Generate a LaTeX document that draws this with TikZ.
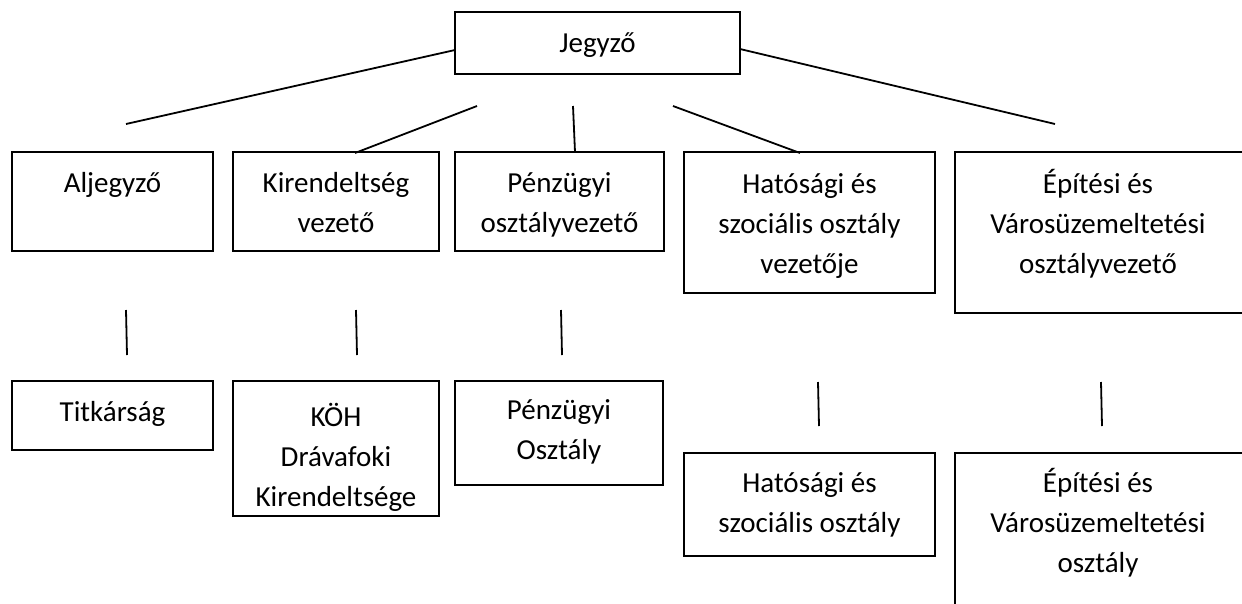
\documentclass[tikz,border=0pt]{standalone}
\usepackage{fontspec}
\setmainfont{Carlito}
\begin{document}
\begin{tikzpicture}[x=1pt,y=-1pt,
  box/.style={draw=black, line width=1.4pt, inner sep=0pt, outer sep=0pt},
  lbl/.style={anchor=north, align=center, inner sep=0pt, font=\fontsize{29}{40}\selectfont},
  link/.style={draw=black, line width=1.8pt}]
\useasboundingbox (0,0) rectangle (1242,603);
\fill[white] (0,0) rectangle (1242,603);

% boxes
\node[box, minimum width=285pt, minimum height=62pt] (jegyzo) at (597.5,43) {};
\node[box, minimum width=201pt, minimum height=99pt] (aljegyzo) at (112.5,201.5) {};
\node[box, minimum width=206pt, minimum height=99pt] (kirend) at (336,201.5) {};
\node[box, minimum width=209pt, minimum height=99pt] (penzv) at (559.5,201.5) {};
\node[box, minimum width=251pt, minimum height=141pt] (hatv) at (809.5,222.5) {};
\node[box, minimum width=305pt, minimum height=161pt] (epitv) at (1107.5,232.5) {};
\node[box, minimum width=201pt, minimum height=69pt] (titk) at (112.5,415.5) {};
\node[box, minimum width=206pt, minimum height=135pt] (koh) at (336,448.5) {};
\node[box, minimum width=208pt, minimum height=104pt] (penzo) at (559,433) {};
\node[box, minimum width=251pt, minimum height=103pt] (hato) at (809.5,504.5) {};
\node[box, minimum width=305pt, minimum height=167pt] (epito) at (1107.5,536.5) {};

% texts (north = first baseline - 28)
\node[lbl] (tjegyzo) at (597.5,24) {\strut Jegyző};
\node[lbl] (taljegyzo) at (112.5,164) {\strut Aljegyző};
\node[lbl] (tkirend) at (336,164) {\strut Kirendeltség\\\strut vezető};
\node[lbl] (tpenzv) at (559.5,164) {\strut Pénzügyi\\\strut osztályvezető};
\node[lbl] (thatv) at (809.5,165) {\strut Hatósági és\\\strut szociális osztály\\\strut vezetője};
\node[lbl] (tepitv) at (1098,165) {\strut Építési és\\\strut Városüzemeltetési\\\strut osztályvezető};
\node[lbl] (ttitk) at (112.5,393) {\strut Titkárság};
\begin{scope}
\clip (233,381) rectangle (439,516);
\node[lbl] (tkoh) at (336,398) {\strut KÖH\\\strut Drávafoki\\\strut Kirendeltsége};
\end{scope}
\node[lbl] (tpenzo) at (559,391) {\strut Pénzügyi\\\strut Osztály};
\node[lbl] (thato) at (809.5,464) {\strut Hatósági és\\\strut szociális osztály};
\node[lbl] (tepito) at (1098,464) {\strut Építési és\\\strut Városüzemeltetési\\\strut osztály};

% connector end points
\coordinate (a1) at (455,50);   \coordinate (a2) at (126,124);
\coordinate (b1) at (477,106);  \coordinate (b2) at (355,153);
\coordinate (c1) at (573,106);  \coordinate (c2) at (575,152);
\coordinate (d1) at (673,106);  \coordinate (d2) at (800,153);
\coordinate (e1) at (740,49);   \coordinate (e2) at (1055,124);
\coordinate (f1) at (126,310);  \coordinate (f2) at (127,355);
\coordinate (g1) at (356,310);  \coordinate (g2) at (357,355);
\coordinate (h1) at (561,310);  \coordinate (h2) at (562,355);
\coordinate (i1) at (818,382);  \coordinate (i2) at (819,426);
\coordinate (k1) at (1101,382); \coordinate (k2) at (1102,426);

\draw[link] (a1) -- (a2);
\draw[link] (b1) -- (b2);
\draw[link] (c1) -- (c2);
\draw[link] (d1) -- (d2);
\draw[link] (e1) -- (e2);
\draw[link] (f1) -- (f2);
\draw[link] (g1) -- (g2);
\draw[link] (h1) -- (h2);
\draw[link] (i1) -- (i2);
\draw[link] (k1) -- (k2);
\end{tikzpicture}
\end{document}
